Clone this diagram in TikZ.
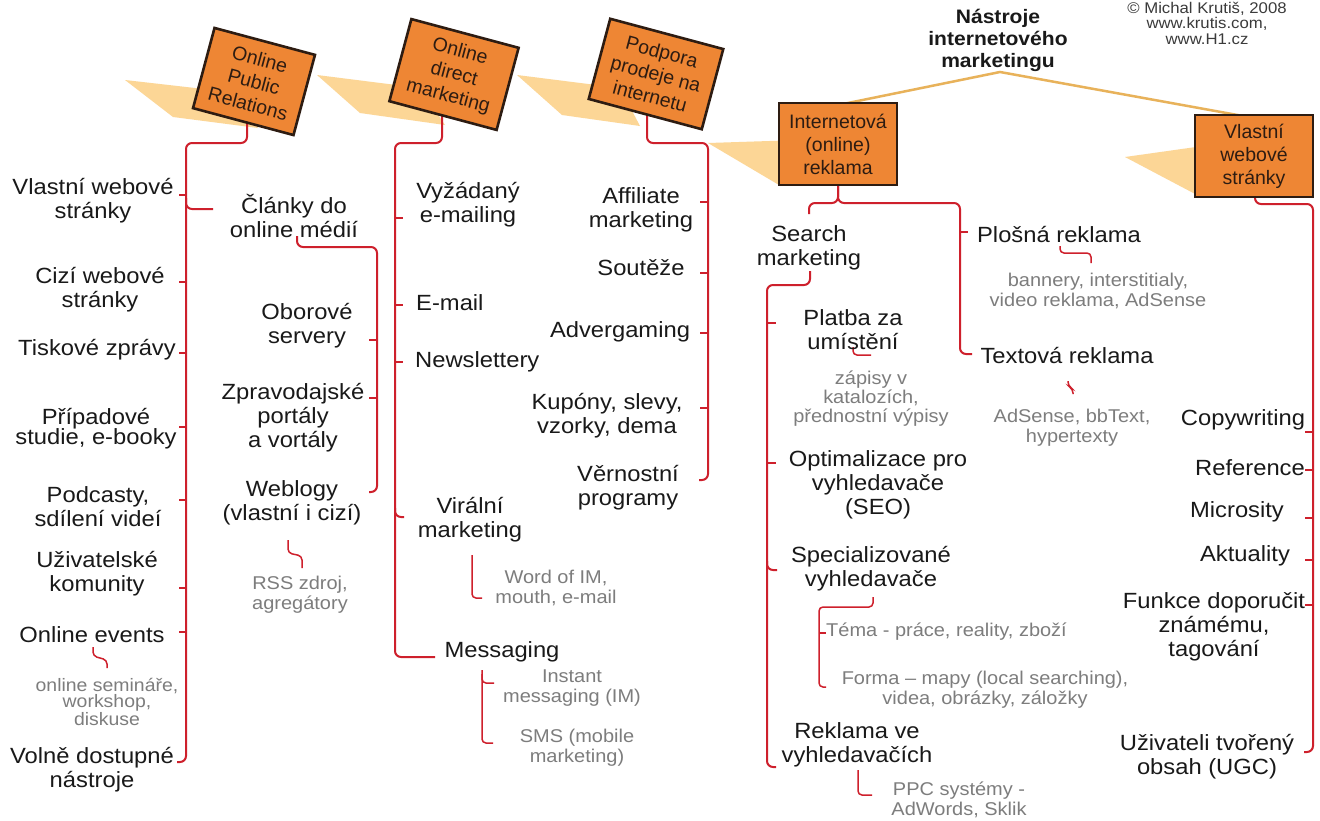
\documentclass[tikz,border=0pt]{standalone}
\usepackage{fontspec}
\setmainfont{Liberation Sans}[FakeStretch=1.08]
\newfontfamily\boxfont{Liberation Sans}
\definecolor{brred}{RGB}{206,32,44}
\definecolor{boxor}{RGB}{238,134,52}
\definecolor{shd}{RGB}{252,214,150}
\definecolor{tanl}{RGB}{232,178,90}
\definecolor{greyt}{RGB}{125,125,125}
\definecolor{ink}{RGB}{25,25,25}
\definecolor{boxink}{RGB}{45,28,18}
\tikzset{
  itemtxt/.style={align=center, font=\fontsize{22}{24}\selectfont, text=ink, inner sep=0pt},
  subtxt/.style={align=center, font=\fontsize{18.5}{20}\selectfont, text=greyt, inner sep=0pt},
  catbox/.style={draw=boxink, line width=2.6pt, fill=boxor, align=center, font=\boxfont\fontsize{19.5}{23}\selectfont, text=boxink, inner sep=0pt},
  redbr/.style={draw=brred, line width=2pt, rounded corners=6pt},
  redsbr/.style={draw=brred, line width=1.5pt, rounded corners=4pt},
  shdfill/.style={fill=shd, draw=none},
}
\begin{document}
\begin{tikzpicture}[x=1pt,y=-1pt]
\useasboundingbox (0,0) rectangle (1320,820);
\fill[white] (0,0) rectangle (1320,820);

% shadows
\fill[shdfill] (125,80) -- (230,92) -- (258,128) -- (173,117) -- cycle;
\fill[shdfill] (317,75) -- (420,88) -- (445,125) -- (360,113) -- cycle;
\fill[shdfill] (517,75) -- (620,88) -- (640,126) -- (562,115) -- cycle;
\fill[shdfill] (708,143) -- (800,140) -- (800,185) -- (779,185) -- cycle;
\fill[shdfill] (1125,157) -- (1210,145) -- (1210,195) -- (1197,195) -- cycle;

% title connector
\coordinate (tp) at (1000,72);
\coordinate (t4) at (843,104);
\coordinate (t5) at (1243,116);
\draw[tanl, line width=2.5pt] (t4) -- (tp) -- (t5);

% column 1
\draw[redbr] (247,121) -- (247,143) -- (186,143) -- (186,762) -- (177,762);
\foreach \y in {195,282,353,427,500,588,632} \draw[redbr] (186,\y) -- (179,\y);
\draw[redbr] (186,198) |- (213,209);
\draw[redsbr] (93,647) -- (93,656) -- (107,660) -- (107,668);

% column 2
\draw[redbr] (297,236) -- (297,247) -- (377,247) -- (377,492) -- (369,492);
\foreach \y in {340,398} \draw[redbr] (377,\y) -- (369,\y);
\draw[redsbr] (288,540) -- (288,553) -- (302,556) -- (302,568);

% column 3
\draw[redbr] (442,113) -- (442,143) -- (395,143) -- (395,657) -- (435,657);
\foreach \y in {218,305,362} \draw[redbr] (395,\y) -- (403,\y);
\draw[redbr] (395,508) |- (404,517);
\draw[redsbr] (472,555) -- (472,598) -- (482,598);
\draw[redsbr] (482,670) -- (482,743) -- (493,743);
\draw[redsbr] (482,674) |- (494,683);

% column 4
\draw[redbr] (647,112) -- (647,143) -- (708,143) -- (708,480) -- (699,480);
\foreach \y in {202,273,333,408} \draw[redbr] (708,\y) -- (700,\y);

% column 5
\draw[redbr] (838,186) -- (838,203) -- (809,203) -- (809,214);
\draw[redbr] (838,186) -- (838,203) -- (960,203) -- (960,354) -- (972,354);
\draw[redbr] (960,232) -- (968,232);
\draw[redbr] (810,271) -- (810,285) -- (767,285) -- (767,767) -- (776,767);
\foreach \y in {323,463} \draw[redbr] (767,\y) -- (776,\y);
\draw[redbr] (767,561) |- (777,570);
\draw[redsbr] (853,347) -- (853,355) -- (871,355);
\draw[redsbr] (873,597) -- (873,607) -- (819,607) -- (819,687) -- (826,687);
\draw[redsbr] (819,633) -- (826,633);
\draw[redsbr] (858,770) -- (858,795) -- (872,795);
\draw[redsbr] (1060,246) -- (1060,253) -- (1091,253) -- (1091,263);
\draw[redsbr] (1068,381) -- (1068,386) -- (1073,389) -- (1073,394);

% column 6
\draw[redbr] (1255,196) -- (1255,204) -- (1313,204) -- (1313,752) -- (1304,752);
\foreach \y in {432,470,518,560,605} \draw[redbr] (1313,\y) -- (1305,\y);

% boxes
\node[catbox, minimum width=104pt, minimum height=83pt, rotate=-15] (b1) at (254,81.5) {Online\\Public\\Relations};
\node[catbox, minimum width=111pt, minimum height=85pt, rotate=-15] (b2) at (454,74.5) {Online\\direct\\marketing};
\node[catbox, minimum width=117pt, minimum height=83pt, rotate=-15] (b3) at (656,74) {Podpora\\prodeje na\\internetu};
\node[catbox, minimum width=118pt, minimum height=82pt] (b4) at (838,144) {Internetová\\(online)\\reklama};
\node[catbox, minimum width=118pt, minimum height=82pt] (b5) at (1254,156) {Vlastní\\webové\\stránky};

% title and credit
\node[align=center, font=\bfseries\fontsize{19.5}{22}\selectfont, text=ink, inner sep=0pt] (title) at (998,40) {Nástroje\\internetového\\marketingu};
\node[align=center, font=\fontsize{15.5}{15.5}\selectfont, text=ink!85, inner sep=0pt] (credit) at (1207,23) {© Michal Krutiš, 2008\\www.krutis.com,\\www.H1.cz};

% column 1 texts
\node[itemtxt] (c1a) at (93,201) {Vlastní webové\\stránky};
\node[itemtxt] (c1b) at (100,290) {Cizí webové\\stránky};
\node[itemtxt] (c1c) at (97,350) {Tiskové zprávy};
\node[itemtxt] (c1d) at (96,429) {Případové\\[-4pt]studie, e-booky};
\node[itemtxt] (c1e) at (98,507) {Podcasty,\\sdílení videí};
\node[itemtxt] (c1f) at (97,574) {Uživatelské\\komunity};
\node[itemtxt] (c1g) at (92,635) {Online events};
\node[subtxt, font=\fontsize{18}{16}\selectfont] (c1h) at (107,702) {online semináře,\\workshop,\\diskuse};
\node[itemtxt] (c1i) at (92,770) {Volně dostupné\\nástroje};

% column 2 texts
\node[itemtxt] (c2a) at (294,216) {Články do\\online médií};
\node[itemtxt] (c2b) at (307,326) {Oborové\\servery};
\node[itemtxt] (c2c) at (293,418) {Zpravodajské\\portály\\a vortály};
\node[itemtxt] (c2d) at (292,503) {Weblogy\\(vlastní i cizí)};
\node[subtxt] (c2e) at (300,595) {RSS zdroj,\\agregátory};

% column 3 texts
\node[itemtxt] (c3a) at (468,205) {Vyžádaný\\e-mailing};
\node[itemtxt, anchor=west] (c3b) at (416,303) {E-mail};
\node[itemtxt, anchor=west] (c3c) at (415,362) {Newslettery};
\node[itemtxt] (c3d) at (470,520) {Virální\\marketing};
\node[subtxt] (c3e) at (556,588) {Word of IM,\\mouth, e-mail};
\node[itemtxt] (c3f) at (502,652) {Messaging};
\node[subtxt] (c3g) at (572,688) {Instant\\messaging (IM)};
\node[subtxt] (c3h) at (577,748) {SMS (mobile\\marketing)};

% column 4 texts
\node[itemtxt] (c4a) at (641,210) {Affiliate\\marketing};
\node[itemtxt] (c4b) at (641,268) {Soutěže};
\node[itemtxt] (c4c) at (620,332) {Advergaming};
\node[itemtxt] (c4d) at (607,416) {Kupóny, slevy,\\vzorky, dema};
\node[itemtxt] (c4e) at (628,488) {Věrnostní\\programy};

% column 5 texts
\node[itemtxt] (c5a) at (809,248) {Search\\marketing};
\node[itemtxt] (c5b) at (853,330) {Platba za\\umístění};
\node[subtxt, font=\fontsize{18.5}{19}\selectfont] (c5c) at (871,399) {zápisy v\\katalozích,\\přednostní výpisy};
\node[itemtxt] (c5d) at (878,485) {Optimalizace pro\\vyhledavače\\(SEO)};
\node[itemtxt] (c5e) at (871,569) {Specializované\\vyhledavače};
\node[subtxt, anchor=west] (c5f) at (826,632) {Téma - práce, reality, zboží};
\node[subtxt] (c5g) at (985,690) {Forma – mapy (local searching),\\videa, obrázky, záložky};
\node[itemtxt] (c5h) at (857,745) {Reklama ve\\vyhledavačích};
\node[subtxt] (c5i) at (959,800) {PPC systémy -\\AdWords, Sklik};
\node[itemtxt] (c5j) at (1059,235) {Plošná reklama};
\node[subtxt] (c5k) at (1098,291) {bannery, interstitialy,\\video reklama, AdSense};
\node[itemtxt] (c5l) at (1067,355) {Textová reklama};
\node[subtxt] (c5m) at (1072,428) {AdSense, bbText,\\hypertexty};

% column 6 texts
\node[itemtxt] (c6a) at (1243,420) {Copywriting};
\node[itemtxt] (c6b) at (1250,468) {Reference};
\node[itemtxt] (c6c) at (1237,512) {Microsity};
\node[itemtxt] (c6d) at (1245,556) {Aktuality};
\node[itemtxt] (c6e) at (1214,627) {Funkce doporučit\\známému,\\tagování};
\node[itemtxt] (c6f) at (1207,757) {Uživateli tvořený\\obsah (UGC)};
\end{tikzpicture}
\end{document}
